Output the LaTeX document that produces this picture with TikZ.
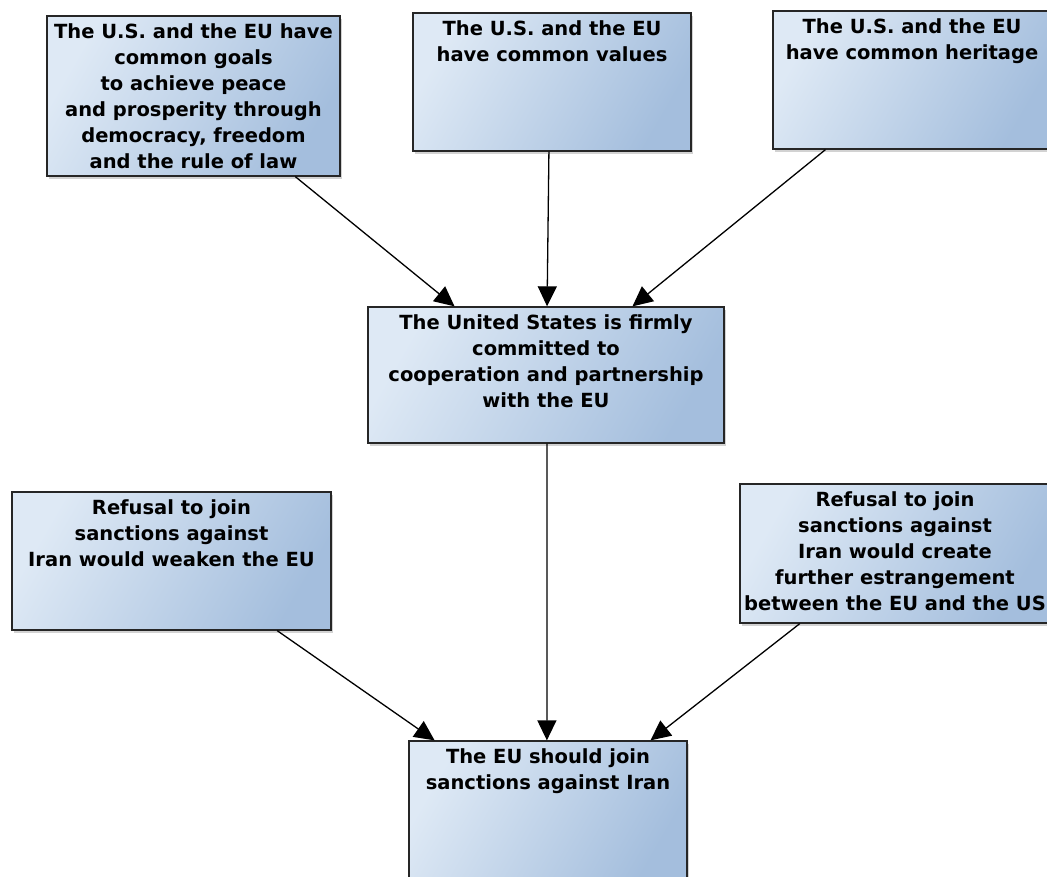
\documentclass[tikz,border=0pt]{standalone}
\usepackage{fontspec}
\setmainfont{DejaVu Sans}
\usetikzlibrary{arrows.meta,shadows,calc}
\definecolor{boxL}{RGB}{222,233,245}
\definecolor{boxR}{RGB}{164,190,221}
\newcommand\bxtext[3]{\parbox[c][#2][t]{#1}{\centering\vspace*{8pt}#3\par}}
\tikzset{
  argbox/.style={draw=black!85, line width=1.3pt, rectangle, inner sep=0pt,
    left color=boxL, right color=boxR, shading angle=60,
    drop shadow={shadow xshift=2pt, shadow yshift=-3pt, opacity=0.35},
    font=\fontsize{19.5}{26}\selectfont\bfseries},
  conn/.style={line width=1.3pt, -{Triangle[length=20pt,width=19pt]}}
}
\begin{document}
\begin{tikzpicture}[x=1pt,y=-1pt]
\clip (0,0) rectangle (1047,876);
\fill[white] (0,0) rectangle (1047,876);
\node[argbox, minimum width=293pt, minimum height=160pt] (A) at (193.5,96)
  {\bxtext{293pt}{160pt}{The U.S. and the EU have\\ common goals\\ to achieve peace\\ and prosperity through\\ democracy, freedom\\ and the rule of law}};
\node[argbox, minimum width=278pt, minimum height=138pt] (B) at (552,82)
  {\bxtext{278pt}{138pt}{The U.S. and the EU\\ have common values}};
\node[argbox, minimum width=278pt, minimum height=138pt] (C) at (912,80)
  {\bxtext{278pt}{138pt}{The U.S. and the EU\\ have common heritage}};
\node[argbox, minimum width=356pt, minimum height=136pt] (D) at (546,375)
  {\bxtext{356pt}{136pt}{The United States is firmly\\ committed to\\ cooperation and partnership\\ with the EU}};
\node[argbox, minimum width=319pt, minimum height=138pt] (E) at (171.5,561)
  {\bxtext{319pt}{138pt}{Refusal to join\\ sanctions against\\ Iran would weaken the EU}};
\node[argbox, minimum width=310pt, minimum height=139pt] (F) at (895,553.5)
  {\bxtext{310pt}{139pt}{Refusal to join\\ sanctions against\\ Iran would create\\ further estrangement\\ between the EU and the US}};
\node[argbox, minimum width=278pt, minimum height=139pt] (G) at (548,810.5)
  {\bxtext{278pt}{139pt}{The EU should join\\ sanctions against Iran}};
\draw[conn] ($(A.south west)!0.846!(A.south east)$) -- ($(D.north west)!0.244!(D.north east)$);
\draw[conn] ($(B.south west)!0.489!(B.south east)$) -- ($(D.north west)!0.503!(D.north east)$);
\draw[conn] ($(C.south west)!0.19!(C.south east)$) -- ($(D.north west)!0.742!(D.north east)$);
\draw[conn] ($(D.south west)!0.503!(D.south east)$) -- ($(G.north west)!0.496!(G.north east)$);
\draw[conn] ($(E.south west)!0.83!(E.south east)$) -- ($(G.north west)!0.094!(G.north east)$);
\draw[conn] ($(F.south west)!0.194!(F.south east)$) -- ($(G.north west)!0.867!(G.north east)$);
\end{tikzpicture}
\end{document}
